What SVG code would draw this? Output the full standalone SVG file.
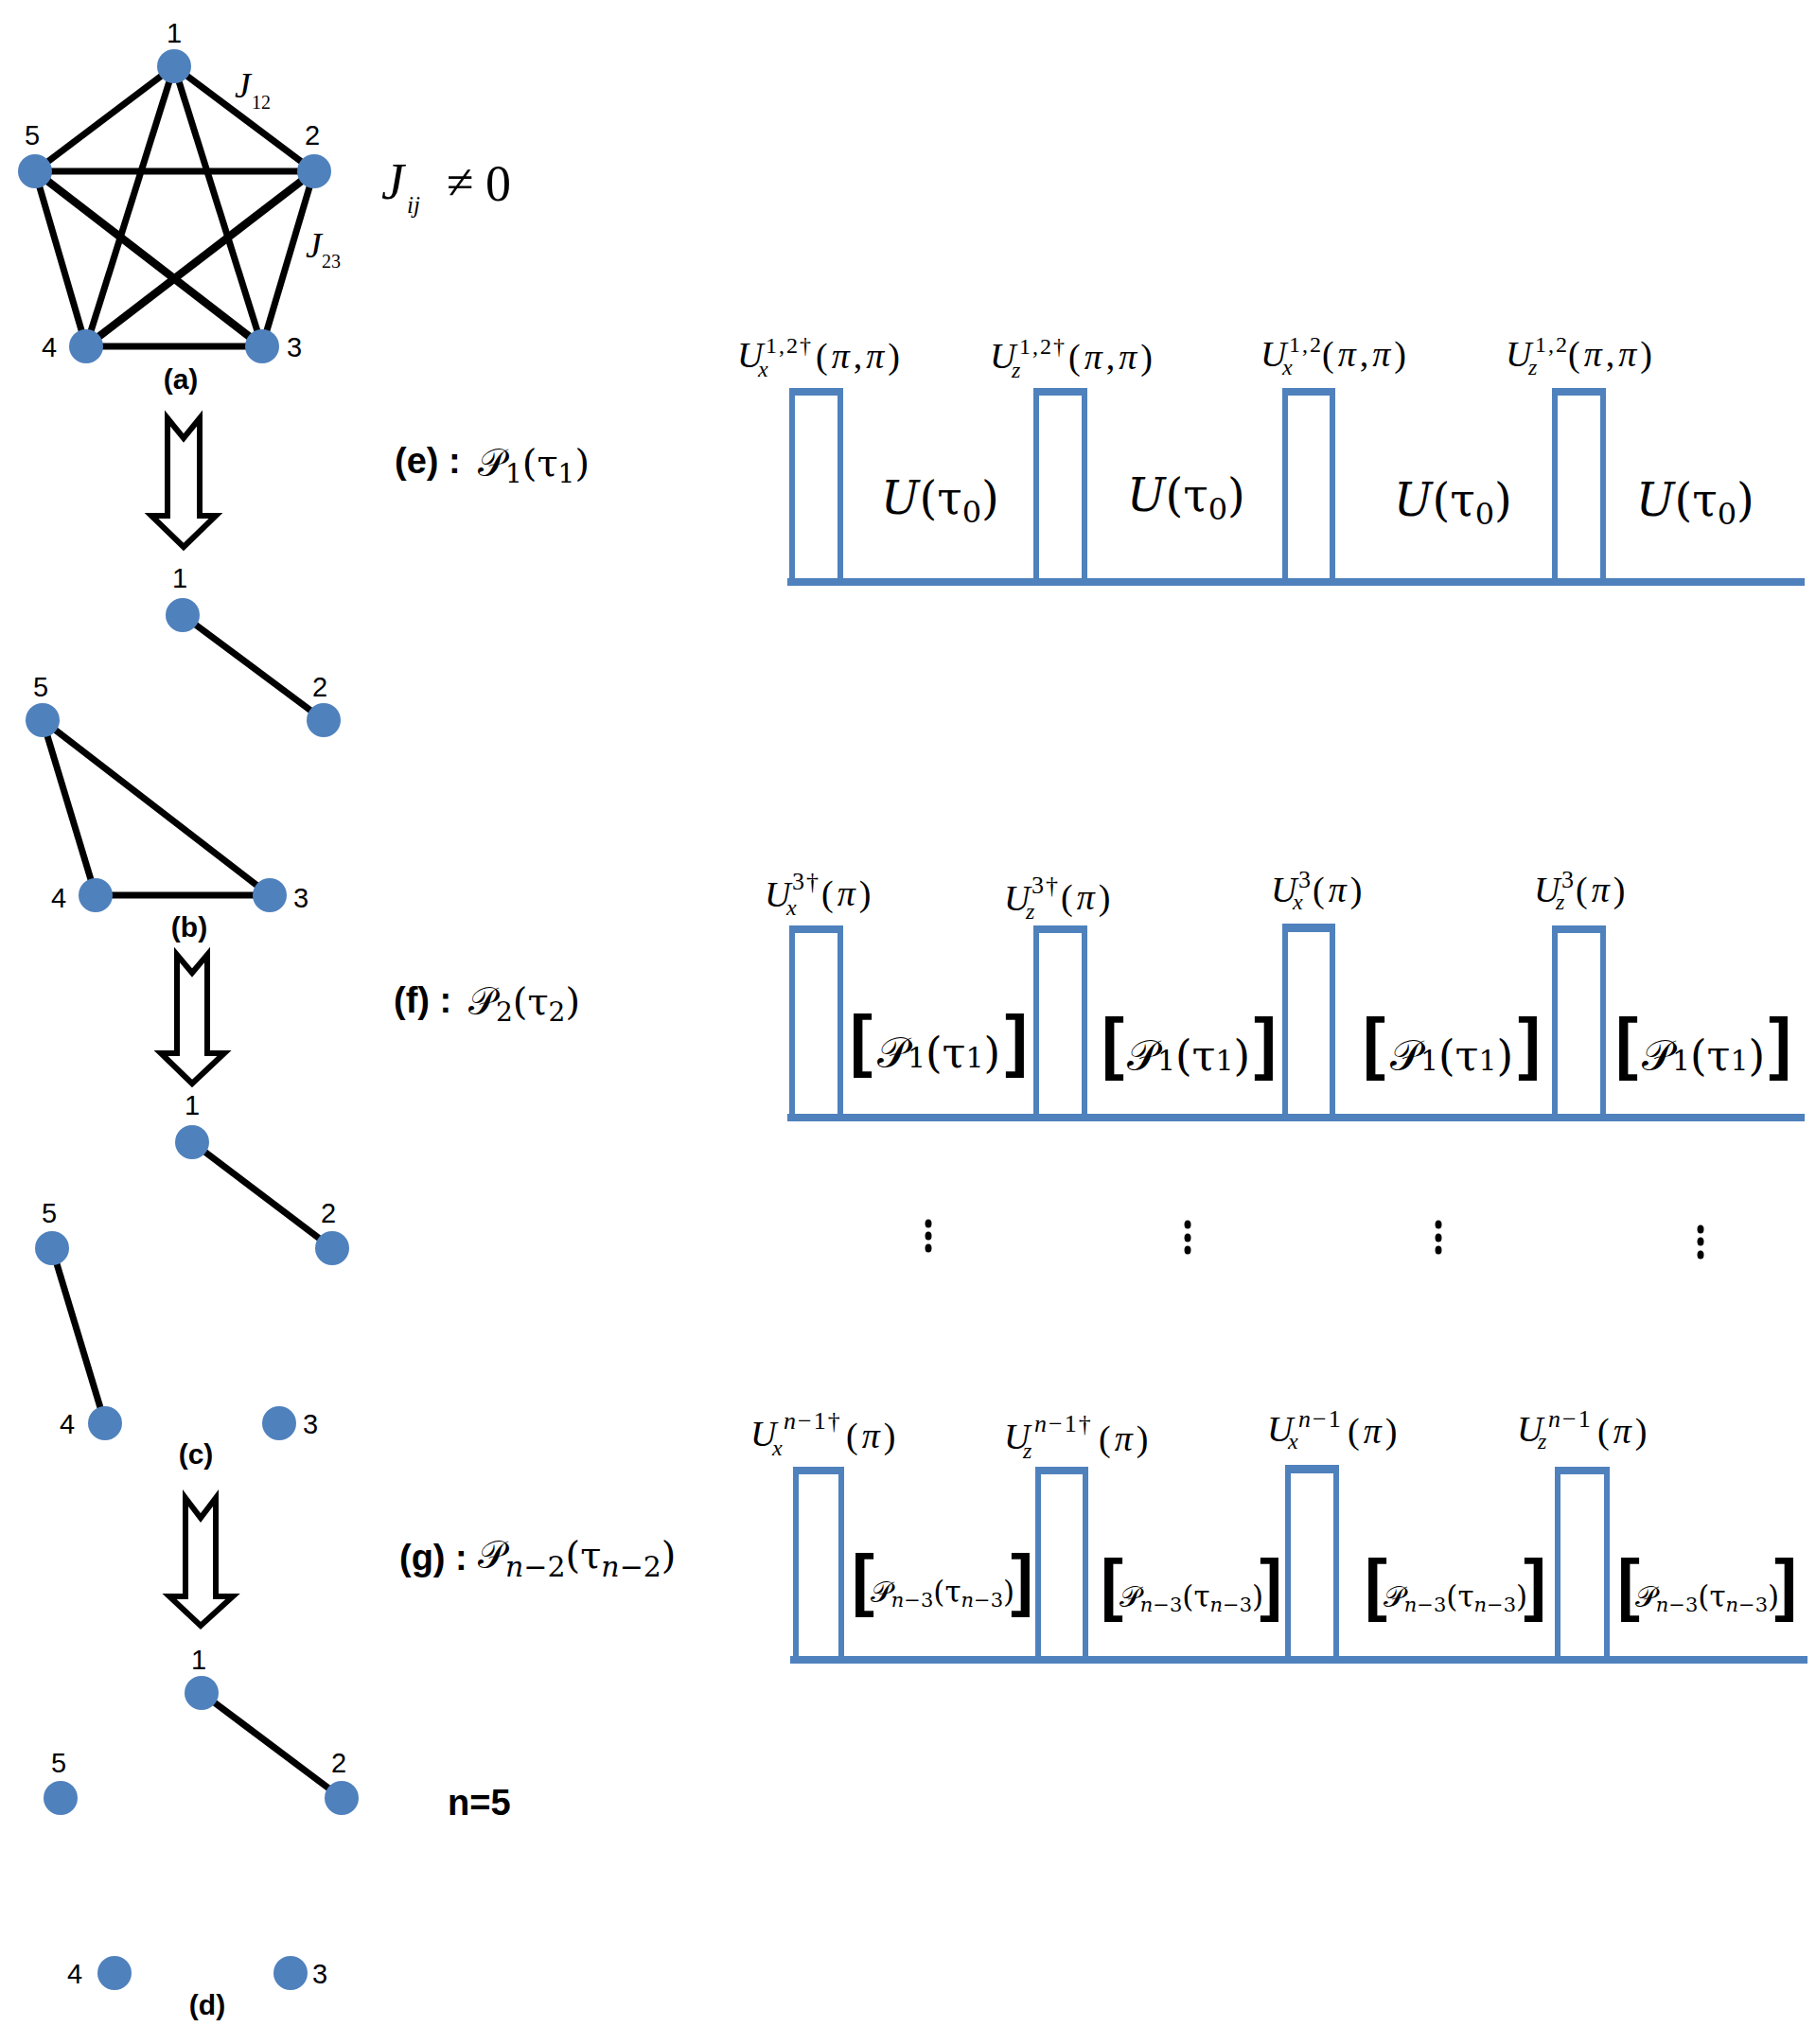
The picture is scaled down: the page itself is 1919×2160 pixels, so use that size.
<svg xmlns="http://www.w3.org/2000/svg" width="1919" height="2160" viewBox="0 0 1919 2160">
<style>
.bg{fill:#fff}
.nd{fill:#4F81BD}
.e{stroke:#000;stroke-width:7;stroke-linecap:butt}
.lb{font-family:"Liberation Sans",Arial,sans-serif;font-size:29px;text-anchor:middle;fill:#000}
.cap{font-family:"Liberation Sans",Arial,sans-serif;font-weight:bold;font-size:30px;text-anchor:middle;fill:#000}
.bl{font-family:"Liberation Sans",Arial,sans-serif;font-weight:bold;font-size:38px;fill:#000}
.ar{fill:#fff;stroke:#000;stroke-width:6;stroke-linejoin:miter;stroke-miterlimit:10}
.pl{fill:none;stroke:#4F81BD;stroke-width:6}
.pt{fill:#4F81BD}
.bs{stroke:#4F81BD;stroke-width:8}
.m{font-family:"DejaVu Serif","Liberation Serif",serif;fill:#000}
.u{font-family:"Liberation Serif","Times New Roman",serif;fill:#000}
.i{font-style:italic}
.t{font-family:"Liberation Serif","Times New Roman",serif;font-style:italic;fill:#000}
.br{font-family:"Liberation Sans",Arial,sans-serif;font-weight:bold;font-size:72px;fill:#000}
.dt{fill:#000}
</style>
<rect class="bg" x="0" y="0" width="1919" height="2160"/>

<!-- Graph (a) -->
<g id="connectors-a">
<line class="e" x1="184" y1="70" x2="332" y2="181"/>
<line class="e" x1="184" y1="70" x2="37" y2="181"/>
<line class="e" x1="184" y1="70" x2="91" y2="366"/>
<line class="e" x1="184" y1="70" x2="277" y2="366"/>
<line class="e" x1="37" y1="181" x2="332" y2="181"/>
<line class="e" x1="37" y1="181" x2="277" y2="366" style="stroke-width:8.5"/>
<line class="e" x1="332" y1="181" x2="91" y2="366" style="stroke-width:8.5"/>
<line class="e" x1="37" y1="181" x2="91" y2="366"/>
<line class="e" x1="332" y1="181" x2="277" y2="366"/>
<line class="e" x1="91" y1="366" x2="277" y2="366"/>
</g>
<g id="a-n1"><circle class="nd" cx="184" cy="70" r="18"/><text class="lb" x="184" y="45">1</text></g>
<g id="a-n2"><circle class="nd" cx="332" cy="181" r="18"/><text class="lb" x="330" y="153">2</text></g>
<g id="a-n5"><circle class="nd" cx="37" cy="181" r="18"/><text class="lb" x="34" y="153">5</text></g>
<g id="a-n4"><circle class="nd" cx="91" cy="366" r="18"/><text class="lb" x="52" y="377">4</text></g>
<g id="a-n3"><circle class="nd" cx="277" cy="366" r="18"/><text class="lb" x="311" y="377">3</text></g>
<text class="cap" x="191" y="411">(a)</text>
<text class="t" x="248" y="103" font-size="38">J<tspan font-size="20" font-style="normal" x="266" y="115">12</tspan></text>
<text class="t" x="323" y="272" font-size="38">J<tspan font-size="20" font-style="normal" x="340" y="283">23</tspan></text>
<g id="jij">
<text class="t" x="403" y="210" font-size="54">J<tspan font-size="25" x="430" y="225">ij</tspan></text>
<text x="472" y="210" font-family="Liberation Serif,serif" font-size="52">≠</text>
<text x="513" y="212" font-family="Liberation Serif,serif" font-size="54">0</text>
</g>

<!-- Arrows -->
<g id="arrows">
<polygon class="ar" points="177,442 194,463 211,442 211,545 228,545 194,578 160,545 177,545"/>
<polygon class="ar" points="187,1009 203,1028 219,1009 219,1113 237,1113 203,1145 170,1113 187,1113"/>
<polygon class="ar" points="196,1583 212,1604 228,1583 228,1687 246,1687 212,1718 179,1687 196,1687"/>
</g>

<!-- Graph (b) -->
<g id="connectors-b">
<line class="e" x1="193" y1="650" x2="342" y2="761"/>
<line class="e" x1="45" y1="761" x2="101" y2="946"/>
<line class="e" x1="45" y1="761" x2="285" y2="946"/>
<line class="e" x1="101" y1="946" x2="285" y2="946"/>
</g>
<g id="b-n1"><circle class="nd" cx="193" cy="650" r="18"/><text class="lb" x="190" y="621">1</text></g>
<g id="b-n2"><circle class="nd" cx="342" cy="761" r="18"/><text class="lb" x="338" y="736">2</text></g>
<g id="b-n5"><circle class="nd" cx="45" cy="761" r="18"/><text class="lb" x="43" y="736">5</text></g>
<g id="b-n4"><circle class="nd" cx="101" cy="946" r="18"/><text class="lb" x="62" y="959">4</text></g>
<g id="b-n3"><circle class="nd" cx="285" cy="946" r="18"/><text class="lb" x="318" y="959">3</text></g>
<text class="cap" x="200" y="990">(b)</text>

<!-- Graph (c) -->
<g id="connectors-c">
<line class="e" x1="203" y1="1207" x2="351" y2="1319"/>
<line class="e" x1="55" y1="1319" x2="111" y2="1504"/>
</g>
<g id="c-n1"><circle class="nd" cx="203" cy="1207" r="18"/><text class="lb" x="203" y="1178">1</text></g>
<g id="c-n2"><circle class="nd" cx="351" cy="1319" r="18"/><text class="lb" x="347" y="1292">2</text></g>
<g id="c-n5"><circle class="nd" cx="55" cy="1319" r="18"/><text class="lb" x="52" y="1292">5</text></g>
<g id="c-n4"><circle class="nd" cx="111" cy="1504" r="18"/><text class="lb" x="71" y="1515">4</text></g>
<g id="c-n3"><circle class="nd" cx="295" cy="1504" r="18"/><text class="lb" x="328" y="1515">3</text></g>
<text class="cap" x="207" y="1547">(c)</text>

<!-- Graph (d) -->
<g id="connectors-d">
<line class="e" x1="213" y1="1789" x2="361" y2="1900"/>
</g>
<g id="d-n1"><circle class="nd" cx="213" cy="1789" r="18"/><text class="lb" x="210" y="1764">1</text></g>
<g id="d-n2"><circle class="nd" cx="361" cy="1900" r="18"/><text class="lb" x="358" y="1873">2</text></g>
<g id="d-n5"><circle class="nd" cx="64" cy="1900" r="18"/><text class="lb" x="62" y="1873">5</text></g>
<g id="d-n4"><circle class="nd" cx="121" cy="2085" r="18"/><text class="lb" x="79" y="2096">4</text></g>
<g id="d-n3"><circle class="nd" cx="307" cy="2085" r="18"/><text class="lb" x="338" y="2096">3</text></g>
<text class="cap" x="219" y="2129">(d)</text>
<text class="bl" x="473" y="1918">n=5</text>

<!-- Row labels -->
<g id="lab-e">
<text class="bl" x="417" y="500">(e) :</text>
<text class="m" x="505" y="503" font-size="40">𝒫<tspan font-size="28" dy="7">1</tspan><tspan dy="-7">(τ</tspan><tspan font-size="28" dy="7">1</tspan><tspan dy="-7">)</tspan></text>
</g>
<g id="lab-f">
<text class="bl" x="416" y="1070">(f) :</text>
<text class="m" x="495" y="1072" font-size="40">𝒫<tspan font-size="28" dy="7">2</tspan><tspan dy="-7">(τ</tspan><tspan font-size="28" dy="7">2</tspan><tspan dy="-7">)</tspan></text>
</g>
<g id="lab-g">
<text class="bl" x="422" y="1659">(g) :</text>
<text class="m" x="505" y="1657" font-size="40">𝒫<tspan font-size="30" dy="9"><tspan class="i">n</tspan>−2</tspan><tspan dy="-9">(τ</tspan><tspan font-size="30" dy="9"><tspan class="i">n</tspan>−2</tspan><tspan dy="-9">)</tspan></text>
</g>

<!-- Row (e) pulses -->
<g id="seq-e">
<line class="bs" x1="832" y1="615" x2="1907" y2="615"/>
<rect class="pl" x="837" y="413" width="51" height="202"/><rect class="pt" x="834" y="410" width="57" height="8" rx="2"/>
<rect class="pl" x="1095" y="413" width="51" height="202"/><rect class="pt" x="1092" y="410" width="57" height="8" rx="2"/>
<rect class="pl" x="1358" y="413" width="50" height="202"/><rect class="pt" x="1355" y="410" width="56" height="8" rx="2"/>
<rect class="pl" x="1643" y="413" width="51" height="202"/><rect class="pt" x="1640" y="410" width="57" height="8" rx="2"/>
</g>
<g id="seq-e-labels">
<text class="u"><tspan class="i" x="779" y="388" font-size="38">U</tspan><tspan x="809" y="373" font-size="24" letter-spacing="2">1,2†</tspan><tspan class="i" x="801" y="398" font-size="24">x</tspan><tspan x="862" y="389" font-size="38" letter-spacing="4">(<tspan class="i">π</tspan>,<tspan class="i">π</tspan>)</tspan></text>
<text class="u"><tspan class="i" x="1046" y="389" font-size="38">U</tspan><tspan x="1077" y="374" font-size="24" letter-spacing="2">1,2†</tspan><tspan class="i" x="1069" y="399" font-size="24">z</tspan><tspan x="1129" y="390" font-size="38" letter-spacing="4">(<tspan class="i">π</tspan>,<tspan class="i">π</tspan>)</tspan></text>
<text class="u"><tspan class="i" x="1332" y="387" font-size="38">U</tspan><tspan x="1362" y="372" font-size="24" letter-spacing="2">1,2</tspan><tspan class="i" x="1355" y="396" font-size="24">x</tspan><tspan x="1397" y="387" font-size="38" letter-spacing="4">(<tspan class="i">π</tspan>,<tspan class="i">π</tspan>)</tspan></text>
<text class="u"><tspan class="i" x="1591" y="387" font-size="38">U</tspan><tspan x="1622" y="372" font-size="24" letter-spacing="2">1,2</tspan><tspan class="i" x="1615" y="396" font-size="24">z</tspan><tspan x="1657" y="387" font-size="38" letter-spacing="4">(<tspan class="i">π</tspan>,<tspan class="i">π</tspan>)</tspan></text>
<text class="m" x="931" y="543" font-size="48"><tspan class="i">U</tspan>(τ<tspan font-size="32" dy="9">0</tspan><tspan dy="-9">)</tspan></text>
<text class="m" x="1191" y="540" font-size="48"><tspan class="i">U</tspan>(τ<tspan font-size="32" dy="9">0</tspan><tspan dy="-9">)</tspan></text>
<text class="m" x="1473" y="545" font-size="48"><tspan class="i">U</tspan>(τ<tspan font-size="32" dy="9">0</tspan><tspan dy="-9">)</tspan></text>
<text class="m" x="1729" y="545" font-size="48"><tspan class="i">U</tspan>(τ<tspan font-size="32" dy="9">0</tspan><tspan dy="-9">)</tspan></text>
</g>

<!-- Row (f) pulses -->
<g id="seq-f">
<line class="bs" x1="832" y1="1181" x2="1907" y2="1181"/>
<rect class="pl" x="837" y="981" width="51" height="200"/><rect class="pt" x="834" y="978" width="57" height="8" rx="2"/>
<rect class="pl" x="1095" y="981" width="51" height="200"/><rect class="pt" x="1092" y="978" width="57" height="8" rx="2"/>
<rect class="pl" x="1358" y="979" width="50" height="202"/><rect class="pt" x="1355" y="976" width="56" height="9" rx="2"/>
<rect class="pl" x="1643" y="981" width="51" height="200"/><rect class="pt" x="1640" y="978" width="57" height="8" rx="2"/>
</g>
<g id="seq-f-labels">
<text class="u"><tspan class="i" x="808" y="958" font-size="38">U</tspan><tspan x="837" y="940" font-size="26" letter-spacing="2">3†</tspan><tspan class="i" x="831" y="967" font-size="24">x</tspan><tspan x="868" y="957" font-size="38" letter-spacing="4">(<tspan class="i">π</tspan>)</tspan></text>
<text class="u"><tspan class="i" x="1061" y="962" font-size="38">U</tspan><tspan x="1090" y="944" font-size="26" letter-spacing="2">3†</tspan><tspan class="i" x="1084" y="971" font-size="24">z</tspan><tspan x="1121" y="961" font-size="38" letter-spacing="4">(<tspan class="i">π</tspan>)</tspan></text>
<text class="u"><tspan class="i" x="1343" y="953" font-size="38">U</tspan><tspan x="1372" y="938" font-size="26">3</tspan><tspan class="i" x="1366" y="961" font-size="24">x</tspan><tspan x="1387" y="953" font-size="38" letter-spacing="4">(<tspan class="i">π</tspan>)</tspan></text>
<text class="u"><tspan class="i" x="1621" y="953" font-size="38">U</tspan><tspan x="1650" y="938" font-size="26">3</tspan><tspan class="i" x="1644" y="961" font-size="24">z</tspan><tspan x="1665" y="953" font-size="38" letter-spacing="4">(<tspan class="i">π</tspan>)</tspan></text>
<text class="br" x="898" y="1124">[</text><text class="br" x="1086" y="1124" text-anchor="end">]</text>
<text class="m" x="992" y="1128" font-size="45" text-anchor="middle">𝒫<tspan font-size="30">1</tspan>(τ<tspan font-size="30">1</tspan>)</text>
<text class="br" x="1164" y="1127">[</text><text class="br" x="1349" y="1127" text-anchor="end">]</text>
<text class="m" x="1256" y="1131" font-size="45" text-anchor="middle">𝒫<tspan font-size="30">1</tspan>(τ<tspan font-size="30">1</tspan>)</text>
<text class="br" x="1440" y="1127">[</text><text class="br" x="1628" y="1127" text-anchor="end">]</text>
<text class="m" x="1534" y="1131" font-size="45" text-anchor="middle">𝒫<tspan font-size="30">1</tspan>(τ<tspan font-size="30">1</tspan>)</text>
<text class="br" x="1707" y="1127">[</text><text class="br" x="1893" y="1127" text-anchor="end">]</text>
<text class="m" x="1800" y="1131" font-size="45" text-anchor="middle">𝒫<tspan font-size="30">1</tspan>(τ<tspan font-size="30">1</tspan>)</text>
</g>

<!-- Dots -->
<g id="dots">
<ellipse class="dt" cx="981" cy="1293" rx="3.5" ry="4.5"/><ellipse class="dt" cx="981" cy="1306" rx="3.5" ry="4.5"/><ellipse class="dt" cx="981" cy="1319" rx="3.5" ry="4.5"/>
<ellipse class="dt" cx="1255" cy="1294" rx="3.5" ry="4.5"/><ellipse class="dt" cx="1255" cy="1308" rx="3.5" ry="4.5"/><ellipse class="dt" cx="1255" cy="1321" rx="3.5" ry="4.5"/>
<ellipse class="dt" cx="1520" cy="1294" rx="3.5" ry="4.5"/><ellipse class="dt" cx="1520" cy="1308" rx="3.5" ry="4.5"/><ellipse class="dt" cx="1520" cy="1321" rx="3.5" ry="4.5"/>
<ellipse class="dt" cx="1797" cy="1299" rx="3.5" ry="4.5"/><ellipse class="dt" cx="1797" cy="1312" rx="3.5" ry="4.5"/><ellipse class="dt" cx="1797" cy="1326" rx="3.5" ry="4.5"/>
</g>

<!-- Row (g) pulses -->
<g id="seq-g">
<line class="bs" x1="835" y1="1754" x2="1910" y2="1754"/>
<rect class="pl" x="841" y="1553" width="48" height="201"/><rect class="pt" x="838" y="1550" width="54" height="8" rx="2"/>
<rect class="pl" x="1097" y="1553" width="50" height="201"/><rect class="pt" x="1094" y="1550" width="56" height="8" rx="2"/>
<rect class="pl" x="1361" y="1551" width="51" height="203"/><rect class="pt" x="1358" y="1548" width="57" height="9" rx="2"/>
<rect class="pl" x="1646" y="1553" width="52" height="201"/><rect class="pt" x="1643" y="1550" width="58" height="8" rx="2"/>
</g>
<g id="seq-g-labels">
<text class="u"><tspan class="i" x="793" y="1528" font-size="38">U</tspan><tspan x="828" y="1510" font-size="26" letter-spacing="2"><tspan class="i">n</tspan>−1†</tspan><tspan class="i" x="816" y="1538" font-size="24">x</tspan><tspan x="894" y="1530" font-size="38" letter-spacing="4">(<tspan class="i">π</tspan>)</tspan></text>
<text class="u"><tspan class="i" x="1061" y="1531" font-size="38">U</tspan><tspan x="1093" y="1513" font-size="26" letter-spacing="2"><tspan class="i">n</tspan>−1†</tspan><tspan class="i" x="1081" y="1541" font-size="24">z</tspan><tspan x="1161" y="1533" font-size="38" letter-spacing="4">(<tspan class="i">π</tspan>)</tspan></text>
<text class="u"><tspan class="i" x="1339" y="1523" font-size="38">U</tspan><tspan x="1372" y="1508" font-size="26" letter-spacing="2"><tspan class="i">n</tspan>−1</tspan><tspan class="i" x="1361" y="1531" font-size="24">x</tspan><tspan x="1424" y="1525" font-size="38" letter-spacing="4">(<tspan class="i">π</tspan>)</tspan></text>
<text class="u"><tspan class="i" x="1603" y="1523" font-size="38">U</tspan><tspan x="1636" y="1508" font-size="26" letter-spacing="2"><tspan class="i">n</tspan>−1</tspan><tspan class="i" x="1625" y="1531" font-size="24">z</tspan><tspan x="1688" y="1525" font-size="38" letter-spacing="4">(<tspan class="i">π</tspan>)</tspan></text>
<text class="br" x="900" y="1694">[</text><text class="br" x="1092" y="1694" text-anchor="end">]</text>
<text class="m" x="996" y="1693" font-size="31" text-anchor="middle">𝒫<tspan font-size="21" dy="5"><tspan class="i">n</tspan>−3</tspan><tspan dy="-5">(τ</tspan><tspan font-size="21" dy="5"><tspan class="i">n</tspan>−3</tspan><tspan dy="-5">)</tspan></text>
<text class="br" x="1163" y="1699">[</text><text class="br" x="1355" y="1699" text-anchor="end">]</text>
<text class="m" x="1259" y="1698" font-size="31" text-anchor="middle">𝒫<tspan font-size="21" dy="5"><tspan class="i">n</tspan>−3</tspan><tspan dy="-5">(τ</tspan><tspan font-size="21" dy="5"><tspan class="i">n</tspan>−3</tspan><tspan dy="-5">)</tspan></text>
<text class="br" x="1442" y="1699">[</text><text class="br" x="1634" y="1699" text-anchor="end">]</text>
<text class="m" x="1538" y="1698" font-size="31" text-anchor="middle">𝒫<tspan font-size="21" dy="5"><tspan class="i">n</tspan>−3</tspan><tspan dy="-5">(τ</tspan><tspan font-size="21" dy="5"><tspan class="i">n</tspan>−3</tspan><tspan dy="-5">)</tspan></text>
<text class="br" x="1709" y="1699">[</text><text class="br" x="1899" y="1699" text-anchor="end">]</text>
<text class="m" x="1804" y="1698" font-size="31" text-anchor="middle">𝒫<tspan font-size="21" dy="5"><tspan class="i">n</tspan>−3</tspan><tspan dy="-5">(τ</tspan><tspan font-size="21" dy="5"><tspan class="i">n</tspan>−3</tspan><tspan dy="-5">)</tspan></text>
</g>
</svg>
